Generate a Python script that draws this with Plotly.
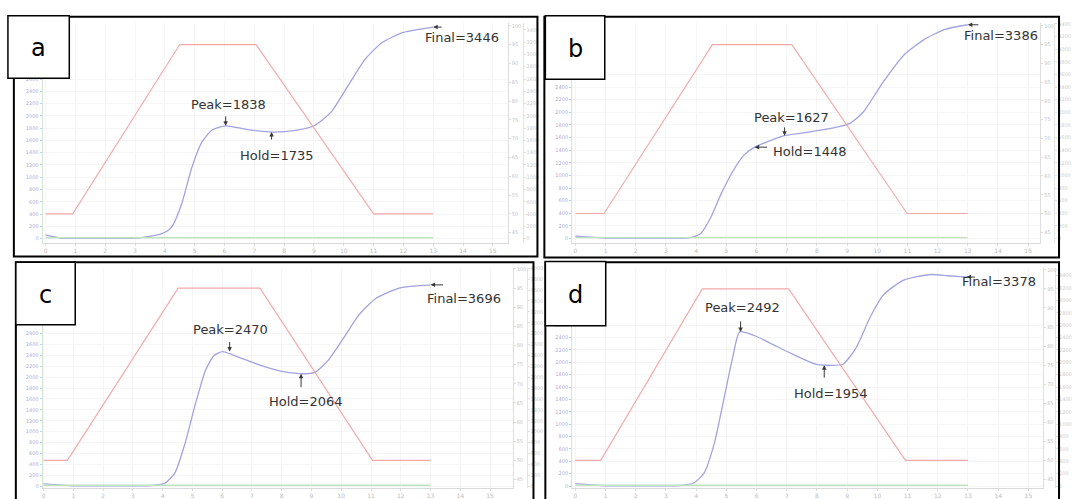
import plotly.graph_objects as go

W, H = 1072, 499

# ---------------- data (time in min, viscosity in cP, temperature in deg C) ----------------
time_a = [0, 0.5, 1.5, 2.5, 3.08, 3.88, 4.22, 4.56, 4.9, 5.25, 5.59, 6.04, 6.73, 7.64, 8.44, 9.01, 9.58, 10.15, 10.72, 11.29, 11.97, 13]
visc_a = [60, 10, 5, 5, 10, 76, 182, 560, 1150, 1580, 1769, 1838, 1780, 1735, 1769, 1839, 2065, 2495, 2925, 3194, 3355, 3446]

time_b = [0, 1, 2, 3, 3.81, 4.15, 4.48, 4.82, 5.27, 5.6, 5.94, 6.39, 6.89, 7.51, 8.41, 9.08, 9.53, 10.2, 10.87, 11.55, 12.22, 13]
visc_b = [40, 10, 10, 10, 15, 80, 330, 700, 1110, 1330, 1448, 1540, 1627, 1670, 1740, 1820, 2000, 2480, 2900, 3150, 3310, 3386]

time_c = [0, 1, 2, 3, 3.61, 4.07, 4.41, 4.75, 5.1, 5.44, 5.73, 6.01, 6.59, 7.27, 7.96, 8.65, 9.11, 9.56, 10.02, 10.6, 11.17, 11.97, 13]
visc_c = [40, 5, 5, 5, 10, 50, 240, 780, 1510, 2130, 2400, 2470, 2360, 2220, 2110, 2064, 2090, 2310, 2670, 3150, 3450, 3640, 3696]

time_d = [0, 1, 2, 3, 3.48, 3.92, 4.26, 4.6, 4.93, 5.21, 5.44, 5.94, 6.61, 7.29, 7.96, 8.3, 8.86, 9.3, 9.75, 10.2, 10.87, 11.77, 12.33, 13]
visc_d = [40, 5, 5, 5, 10, 50, 210, 690, 1440, 2080, 2492, 2430, 2270, 2110, 1970, 1954, 1970, 2240, 2720, 3090, 3330, 3420, 3400, 3378]

temp_time_a = [0, 0.91, 4.5, 7.06, 11.0, 13]
temp_time_b = [0, 0.95, 4.54, 7.17, 10.99, 13]
temp_time_c = [0, 0.8, 4.52, 7.27, 11.05, 13]
temp_time_d = [0, 0.84, 4.2, 7.06, 10.93, 13]
temp_profile = [50, 50, 95, 95, 50, 50]

green_time = [0, 13]
green_level = [15, 15]

panel_names = ["a", "b", "c", "d"]
peak_time = [6.04, 6.93, 6.25, 5.47]
peak_value = [1838, 1627, 2470, 2492]
hold_time = [7.58, 5.94, 8.65, 8.24]
hold_value = [1735, 1448, 2064, 1954]
final_time = [13, 13, 13, 12.95]
final_value = [3446, 3386, 3696, 3378]

# left (viscosity) tick labels visible below the letter boxes
visc_ticks_a = [0, 200, 400, 600, 800, 1000, 1200, 1400, 1600, 1800, 2000, 2200, 2400, 2600]
visc_ticks_b = [0, 200, 400, 600, 800, 1000, 1200, 1400, 1600, 1800, 2000, 2200, 2400, 2600]
visc_ticks_c = [0, 200, 400, 600, 800, 1000, 1200, 1400, 1600, 1800, 2000, 2200, 2400, 2600, 2800]
visc_ticks_d = [0, 200, 400, 600, 800, 1000, 1200, 1400, 1600, 1800, 2000, 2200, 2400, 2600]
temp_ticks = [45, 50, 55, 60, 65, 70, 75, 80, 85, 90, 95, 100]
time_ticks = [0, 1, 2, 3, 4, 5, 6, 7, 8, 9, 10, 11, 12, 13, 14, 15]

times = [time_a, time_b, time_c, time_d]
viscs = [visc_a, visc_b, visc_c, visc_d]
temp_times = [temp_time_a, temp_time_b, temp_time_c, temp_time_d]
visc_ticks = [visc_ticks_a, visc_ticks_b, visc_ticks_c, visc_ticks_d]

# ---------------- geometry (pixels) ----------------
geo = [
    dict(xl=42, xr=512, yt=20, yb=242, xr2=527, xrange=[-0.1, 15.5], vrange=[-64.5, 3516], trange=[42.37, 100.79]),
    dict(xl=577, xr=1050, yt=20, yb=242, xr2=1064, xrange=[-0.11, 15.40], vrange=[-62.7, 3417], trange=[42.27, 100.8]),
    dict(xl=42, xr=517, yt=268, yb=490, xr2=531, xrange=[-0.035, 15.76], vrange=[-36.4, 4000], trange=[42.76, 100.17]),
    dict(xl=577, xr=1053, yt=268, yb=490, xr2=1065, xrange=[-0.11, 15.49], vrange=[-32, 3520], trange=[42.73, 100.4]),
]
borders = [(13, 14, 542, 256), (549, 14, 1069, 257), (15, 262, 538, 505), (550, 262, 1069, 505)]
label_boxes = [(7, 13, 69, 76), (550, 13, 610, 77), (15, 262, 75, 325), (550, 261, 611, 326)]

# annotation offsets: (text xshift, text yshift, arrow ax, arrow ay)
peak_off = [(3, 21, 0, -11), (7, 18, 0, -10), (1, 22, 0, -11), (2, 24, 0, -12)]
hold_off = [(5, -23, 0, 9), (55, -4, 14, 0), (5, -28, 0, 15), (7, -28, 0, 14)]
final_off = [(29, -10, 10, 0), (33, -11, 12, 0), (33, -14, 14, 0), (33, -4, 10, 0)]

BLUE = "#a2a2e2"
RED = "#f4a8a8"
GREEN = "#bfe2bf"
TXT = "#333333"


def px(x):
    return x / W


def py(y):
    return 1 - y / H


fig = go.Figure()
layout = dict(
    width=W, height=H, margin=dict(l=0, r=0, t=0, b=0),
    paper_bgcolor="white", plot_bgcolor="white", showlegend=False,
    font=dict(family="DejaVu Sans", color=TXT),
)
annotations = []
shapes = []

for i, g in enumerate(geo):
    xn = "x" if i == 0 else f"x{i + 1}"
    yv = "y" if i == 0 else f"y{3 * i + 1}"
    yt = f"y{3 * i + 2}"
    ye = f"y{3 * i + 3}"
    xk = "xaxis" if i == 0 else f"xaxis{i + 1}"
    yvk = "yaxis" if i == 0 else f"yaxis{3 * i + 1}"
    ytk = f"yaxis{3 * i + 2}"
    yek = f"yaxis{3 * i + 3}"
    dom_x = [px(g["xl"]), px(g["xr"])]
    dom_y = [py(g["yb"]), py(g["yt"])]

    layout[xk] = dict(domain=dom_x, anchor=yv, range=g["xrange"], tickmode="array", tickvals=time_ticks,
                      tickfont=dict(size=6, color="#bcbcbc"), showline=True, linecolor="#dadada",
                      ticks="outside", ticklen=2, tickcolor="#dadada",
                      showgrid=True, gridcolor="#f5f5f5", zeroline=False)
    layout[yvk] = dict(domain=dom_y, anchor=xn, range=g["vrange"], side="left",
                       tickmode="array", tickvals=visc_ticks[i],
                       tickfont=dict(size=5, color="#acacdc"), showline=True, linecolor="#d3e6d3",
                       ticks="outside", ticklen=2, tickcolor="#cbcbe8",
                       showgrid=True, gridcolor="#f5f5f5", zeroline=False)
    layout[ytk] = dict(overlaying=yv, anchor=xn, side="right", range=g["trange"],
                       tickmode="array", tickvals=temp_ticks,
                       tickfont=dict(size=5, color="#c4c4c4"), showline=True, linecolor="#dedede",
                       ticks="outside", ticklen=2, tickcolor="#dedede", showgrid=False, zeroline=False)
    layout[yek] = dict(overlaying=yv, anchor="free", position=px(g["xr2"]), side="right",
                       range=g["vrange"], dtick=200, tickfont=dict(size=5, color="#cccccc"),
                       showline=True, linecolor="#e4e4e4", ticks="outside", ticklen=2,
                       tickcolor="#e4e4e4", showgrid=False, zeroline=False)

    fig.add_trace(go.Scatter(x=green_time, y=green_level, mode="lines", xaxis=xn, yaxis=ye,
                             line=dict(color=GREEN, width=1.4), hoverinfo="skip"))
    fig.add_trace(go.Scatter(x=temp_times[i], y=temp_profile, mode="lines", xaxis=xn, yaxis=yt,
                             line=dict(color=RED, width=1.1), hoverinfo="skip"))
    fig.add_trace(go.Scatter(x=times[i], y=viscs[i], mode="lines", xaxis=xn, yaxis=yv,
                             line=dict(color=BLUE, width=1.3, shape="spline", smoothing=0.6),
                             hoverinfo="skip"))

    for name, t, v, off in [("Peak", peak_time[i], peak_value[i], peak_off[i]),
                            ("Hold", hold_time[i], hold_value[i], hold_off[i]),
                            ("Final", final_time[i], final_value[i], final_off[i])]:
        tx, ty, ax, ay = off
        annotations.append(dict(x=t, y=v, xref=xn, yref=yv, text=f"{name}={v}", showarrow=False,
                                xshift=tx, yshift=ty, xanchor="center", yanchor="middle",
                                font=dict(size=13, color=TXT, family="DejaVu Sans")))
        annotations.append(dict(x=t, y=v, xref=xn, yref=yv, text="", showarrow=True,
                                ax=ax, ay=ay, arrowhead=2, arrowsize=0.9, arrowwidth=1,
                                arrowcolor="#3a3a3a", standoff=0))

    x0, y0, x1, y1 = borders[i]
    shapes.append(dict(type="rect", xref="paper", yref="paper", x0=px(x0), x1=px(x1), y0=py(y1), y1=py(y0),
                       line=dict(color="black", width=2), fillcolor="rgba(0,0,0,0)"))
    bx0, by0, bx1, by1 = label_boxes[i]
    shapes.append(dict(type="rect", xref="paper", yref="paper", x0=px(bx0), x1=px(bx1), y0=py(by1), y1=py(by0),
                       line=dict(color="black", width=1.5), fillcolor="white"))
    annotations.append(dict(x=px((bx0 + bx1) / 2), y=py((by0 + by1) / 2 + 1), xref="paper", yref="paper",
                            text=panel_names[i], showarrow=False, xanchor="center", yanchor="middle",
                            font=dict(size=24, color="black", family="DejaVu Sans")))

layout["annotations"] = annotations
layout["shapes"] = shapes
fig.update_layout(**layout)
fig.write_html("out.html")
